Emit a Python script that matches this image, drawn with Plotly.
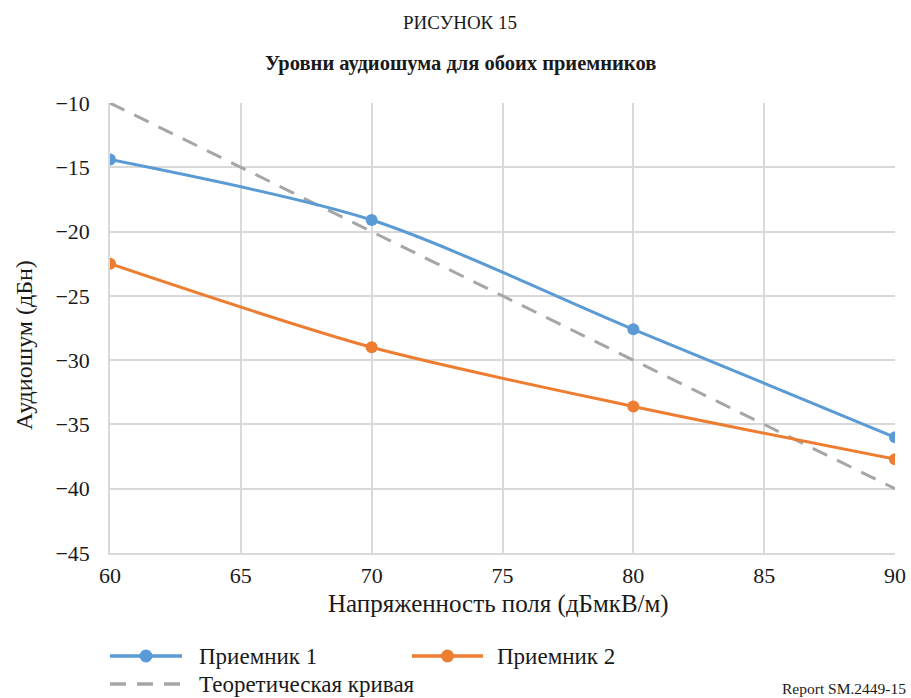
import plotly.graph_objects as go

# Field strength, dBµV/m
field_strength = [60, 70, 80, 90]
# Audio noise, dBn
receiver_1 = [-14.4, -19.1, -27.6, -36.0]
receiver_2 = [-22.5, -29.0, -33.6, -37.7]
theory_x = [60, 90]
theory_y = [-10, -40]

names = ["Приемник 1", "Приемник 2", "Теоретическая кривая"]
x_ticks = [60, 65, 70, 75, 80, 85, 90]
y_ticks = [-10, -15, -20, -25, -30, -35, -40, -45]

BLUE = "#5b9bd5"
ORANGE = "#ed7d31"
GRAY = "#a6a6a6"
TEXT = "#1a1a1a"
FONT = "Liberation Serif, Times New Roman, serif"

W, H = 911, 698
L, R, T, B = 110, 16, 103, 145
PW, PH = W - L - R, H - T - B


def px(xp):
    """Page x pixel -> paper coordinate."""
    return (xp - L) / PW


def py(yp):
    """Page y pixel (from top) -> paper coordinate."""
    return (H - B - yp) / PH


fig = go.Figure()
fig.add_trace(go.Scatter(
    x=theory_x, y=theory_y, name=names[2], mode="lines",
    line=dict(color=GRAY, width=3, dash="16px,11px"),
))
fig.add_trace(go.Scatter(
    x=field_strength, y=receiver_1, name=names[0], mode="lines+markers",
    line=dict(color=BLUE, width=3, shape="spline", smoothing=0.8),
    marker=dict(color=BLUE, size=12),
))
fig.add_trace(go.Scatter(
    x=field_strength, y=receiver_2, name=names[1], mode="lines+markers",
    line=dict(color=ORANGE, width=3, shape="spline", smoothing=0.8),
    marker=dict(color=ORANGE, size=12),
))

axis_common = dict(
    showgrid=True, gridcolor="#d9d9d9", gridwidth=1.5,
    zeroline=False, showline=True, linecolor="#d9d9d9", linewidth=1.5,
    ticks="", tickfont=dict(family=FONT, size=22, color=TEXT),
)

# Legend drawn below the plot: sample line, marker and label per series
legend_items = [
    (names[0], BLUE, "solid", True, 110, 182, 197, 656),
    (names[1], ORANGE, "solid", True, 412, 483, 495, 656),
    (names[2], GRAY, "16px,11px", False, 110, 182, 197, 684),
]
shapes = []
annotations = []
for label, color, dash, has_marker, x0, x1, xt, yr in legend_items:
    shapes.append(dict(
        type="line", xref="paper", yref="paper", x0=px(x0), x1=px(x1),
        y0=py(yr), y1=py(yr), line=dict(color=color, width=3.5, dash=dash),
    ))
    if has_marker:
        xc = px((x0 + x1) / 2)
        shapes.append(dict(
            type="circle", xref="paper", yref="paper",
            xsizemode="pixel", ysizemode="pixel",
            xanchor=xc, yanchor=py(yr), x0=-6.5, x1=6.5, y0=-6.5, y1=6.5,
            fillcolor=color, line=dict(color=color, width=0),
        ))
    annotations.append(dict(
        text=label, x=px(xt), y=py(yr), xref="paper", yref="paper",
        xanchor="left", yanchor="middle", showarrow=False,
        font=dict(family=FONT, size=23, color=TEXT),
    ))

annotations += [
    dict(text="РИСУНОК 15", x=px(460), y=py(23), xref="paper", yref="paper",
         xanchor="center", yanchor="middle", showarrow=False,
         font=dict(family=FONT, size=19, color=TEXT)),
    dict(text="<b>Уровни аудиошума для обоих приемников</b>", x=px(460), y=py(63),
         xref="paper", yref="paper", xanchor="center", yanchor="middle", showarrow=False,
         font=dict(family=FONT, size=20.5, color=TEXT)),
    dict(text="Напряженность поля (дБмкВ/м)", x=px(498), y=py(604), xref="paper",
         yref="paper", xanchor="center", yanchor="middle", showarrow=False,
         font=dict(family=FONT, size=25, color=TEXT)),
    dict(text="Аудиошум (дБн)", x=px(24), y=py(345), xref="paper", yref="paper",
         xanchor="center", yanchor="middle", showarrow=False, textangle=-90,
         font=dict(family=FONT, size=24, color=TEXT)),
    dict(text="Report SM.2449-15", x=px(908), y=py(688), xref="paper", yref="paper",
         xanchor="right", yanchor="middle", showarrow=False,
         font=dict(family=FONT, size=15.5, color=TEXT)),
]

fig.update_layout(
    width=W, height=H,
    margin=dict(l=L, r=R, t=T, b=B, autoexpand=False),
    paper_bgcolor="white", plot_bgcolor="white",
    font=dict(family=FONT, color=TEXT),
    showlegend=False,
    xaxis=dict(range=[60, 90], tickvals=x_ticks, ticklabelstandoff=2, **axis_common),
    yaxis=dict(range=[-45, -10], tickvals=y_ticks, tickformat="d",
               ticklabelstandoff=14, **axis_common),
    shapes=shapes,
    annotations=annotations,
)

fig.write_html("out.html")
